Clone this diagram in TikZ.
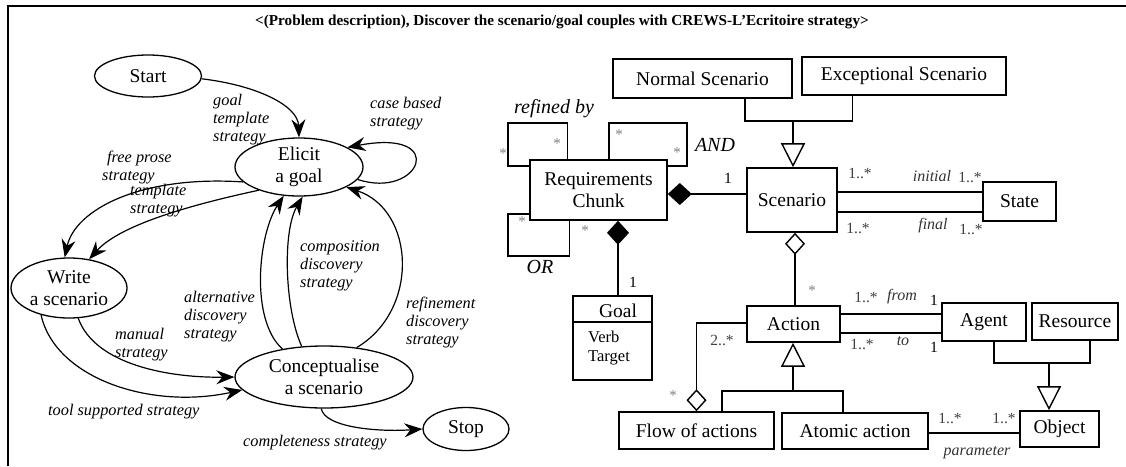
\documentclass[tikz,border=0pt]{standalone}
\usepackage{fontspec}
\setmainfont{Liberation Serif}
\usetikzlibrary{shapes.geometric,arrows.meta,calc}
\begin{document}
\begin{tikzpicture}[x=1pt,y=-1pt,
  stnode/.style={ellipse,draw,line width=1.3pt,inner sep=0pt,align=center,font=\fontsize{19.5}{21.5}\selectfont},
  lbl/.style={font=\fontsize{16.3}{18}\selectfont\itshape,align=left,inner sep=0pt,anchor=west},
  arr/.style={line width=1.2pt,-{Stealth[length=18pt,width=14pt,inset=6pt]}},
  cls/.style={draw,line width=1.6pt,inner sep=0pt,font=\fontsize{19.5}{21.5}\selectfont,align=center},
  ln/.style={line width=1.4pt},
  gen/.style={ln,-{Triangle[open,length=24pt,width=24pt]}},
  comp/.style={ln,{Diamond[length=24pt,width=22pt]}-},
  aggr/.style={ln,{Diamond[open,length=22pt,width=20pt]}-},
  mult/.style={font=\fontsize{15.5}{17}\selectfont,text=black!75,inner sep=0pt},
  star/.style={font=\fontsize{15}{17}\selectfont,text=black!50,inner sep=0pt},
  role/.style={font=\fontsize{16}{17}\selectfont\itshape,text=black!80,inner sep=0pt},
  big/.style={font=\fontsize{20}{22}\selectfont\itshape,inner sep=0pt}
]
\useasboundingbox (0,0) rectangle (1126,466);
\fill[white] (0,0) rectangle (1126,466);
\draw[line width=1.5pt] (8,466) -- (8,6) -- (1126,6);

\node[font=\fontsize{15.2}{17}\selectfont\bfseries] (title) at (562,22)
  {<(Problem description), Discover the scenario/goal couples with CREWS-L'Ecritoire strategy>};

% ---------- left: map ----------
\node[stnode,minimum width=107pt,minimum height=42pt] (start) at (148,76) {Start};
\node[stnode,minimum width=128pt,minimum height=58pt] (elicit) at (299,167) {Elicit\\a goal};
\node[stnode,minimum width=116pt,minimum height=60pt] (write) at (69,288) {Write\\a scenario};
\node[stnode,minimum width=178pt,minimum height=62pt] (concept) at (324,377) {Conceptualise\\a scenario};
\node[stnode,minimum width=86pt,minimum height=43pt] (stop) at (466,429) {Stop};

\draw[arr] (start.-3) .. controls (255,85) and (298,105) .. (elicit.north);
\draw[arr] (elicit.-12) .. controls (420,200) and (450,128) .. (elicit.22);
\draw[arr] (elicit.-165) .. controls (140,175) and (75,210) .. (write.98);
\draw[arr] (elicit.-150) .. controls (190,205) and (120,225) .. (write.55);
\draw[arr] (write.-73) .. controls (95,365) and (170,378) .. (concept.west);
\draw[arr] (write.-136) .. controls (55,378) and (150,410) .. (concept.-171);
\draw[arr] (concept.146) .. controls (250,320) and (258,235) .. (elicit.-118);
\draw[arr] (concept.126) .. controls (285,310) and (282,232) .. (elicit.-83);
\draw[arr] (concept.42) .. controls (420,310) and (415,210) .. (elicit.-23);
\draw[arr] (concept.-95) .. controls (325,428) and (380,432) .. (stop.west);

\node[lbl] (l1) at (213,119.5) {goal\\template\\strategy};
\node[lbl] (l2) at (370,114) {case based\\strategy};
\node[lbl] (l3) at (102,168) {\hspace*{5pt}free prose\\strategy};
\node[lbl] (l4) at (130,201) {template\\strategy};
\node[lbl] (l5) at (115,345) {manual\\strategy};
\node[lbl] (l6) at (48,412) {tool supported strategy};
\node[lbl] (l7) at (184,317) {alternative\\discovery\\strategy};
\node[lbl] (l8) at (300,266) {composition\\discovery\\strategy};
\node[lbl] (l9) at (406,323) {refinement\\discovery\\strategy};
\node[lbl] (l10) at (243,443) {completeness strategy};

% ---------- right: class diagram ----------
\node[cls,minimum width=179pt,minimum height=39pt] (normal) at (702.5,78.5) {Normal Scenario};
\node[cls,minimum width=204pt,minimum height=38pt] (exc) at (904,76) {Exceptional Scenario};
\node[cls,minimum width=90pt,minimum height=64pt] (scen) at (792,200) {Scenario};
\node[cls,minimum width=73pt,minimum height=39pt] (state) at (1019.5,201.5) {State};
\node[cls,minimum width=137pt,minimum height=60pt] (req) at (598.5,190) {Requirements\\Chunk};
\node[cls,minimum width=79pt,minimum height=84pt] (goal) at (612.5,338) {};
\node[font=\fontsize{19.5}{21.5}\selectfont,inner sep=0pt] (goalt) at (618,311) {Goal};
\node[font=\fontsize{16.5}{19}\selectfont,align=left,inner sep=0pt,anchor=west] (goala) at (588,348) {Verb\\Target};
\node[cls,minimum width=93pt,minimum height=36pt] (action) at (793.5,324) {Action};
\node[cls,minimum width=84pt,minimum height=38pt] (agent) at (984,322) {Agent};
\node[cls,minimum width=86pt,minimum height=37pt] (res) at (1075,321.5) {Resource};
\node[cls,minimum width=79pt,minimum height=36pt] (obj) at (1059.5,429) {Object};
\node[cls,minimum width=155pt,minimum height=37pt] (flow) at (696.5,430.5) {Flow of actions};
\node[cls,minimum width=146pt,minimum height=36pt] (atom) at (855,431) {Atomic action};

\draw[line width=1.6pt] ([yshift=-27pt]goal.north west) -- ([yshift=-27pt]goal.north east);

% generalisation Normal/Exceptional -> Scenario
\coordinate (g1) at (793,121);
\draw[ln] ([xshift=-48pt]normal.south east) |- (g1) -| ([xshift=51pt]exc.south west);
\draw[gen] (g1) -- (g1 |- scen.north);

% Scenario -- State
\draw[ln] ([yshift=8pt]scen.east) -- ([yshift=8pt]scen.east -| state.west);
\draw[ln] ([yshift=-12pt]scen.east) -- ([yshift=-12pt]scen.east -| state.west);

% Req -> Scenario composition
\draw[comp] ([yshift=-4pt]req.east) -- ([yshift=-4pt]req.east -| scen.west);

% reflexive loops
\coordinate (lp1) at (508,123);
\coordinate (lp2) at (687,123);
\coordinate (lp3) at (508,256);
\draw[ln] ([xshift=38pt]req.north west) |- (lp1) |- ([yshift=24pt]req.west);
\draw[ln] ([xshift=-59pt]req.north east) |- (lp2) |- ([yshift=24pt]req.east);
\draw[ln] ([xshift=40pt]req.south west) |- (lp3) |- ([yshift=-24pt]req.west);

% Req -> Goal
\draw[comp] ([xshift=19.5pt]req.south) -- ([xshift=19.5pt]req.south |- goal.north);

% Scenario -> Action aggregation
\draw[aggr] ([xshift=3pt]scen.south) -- ([xshift=3pt]scen.south |- action.north);

% Action -- Agent
\draw[ln] ([yshift=10pt]action.east) -- ([yshift=10pt]action.east -| agent.west);
\draw[ln] ([yshift=-9pt]action.east) -- ([yshift=-9pt]action.east -| agent.west);

% Agent/Resource -> Object
\coordinate (g2) at (1049,363);
\draw[ln] ([xshift=10pt]agent.south) |- (g2) -| ([xshift=15pt]res.south);
\draw[gen] (g2) -- (g2 |- obj.north);

% Flow/Atomic -> Action
\coordinate (g3) at (793,391);
\draw[ln] ([xshift=25.5pt]flow.north) |- (g3) -| ([xshift=-12pt]atom.north);
\draw[gen] (g3) -- (g3 |- action.south);

% Flow -> Action aggregation
\draw[aggr] (flow.north) |- ([yshift=1pt]action.west);

% Atomic -- Object
\draw[ln] ([yshift=-2pt]atom.east) -- ([yshift=-2pt]atom.east -| obj.west);

% labels
\node[big] (rb) at (554,109) {refined by};
\node[big] (and) at (715,145) {AND};
\node[big] (or) at (540,267) {OR};
\node[star] (s1) at (557,144) {*};
\node[star] (s2) at (503,154) {*};
\node[star] (s3) at (619,135) {*};
\node[star] (s4) at (677,153) {*};
\node[star] (s5) at (522,222) {*};
\node[star] (s6) at (585,231) {*};
\node[star] (s7) at (812,291) {*};
\node[star] (s8) at (673,396) {*};
\node[mult,text=black] (m1) at (728,178) {1};
\node[mult,text=black] (m2) at (633,282) {1};
\node[mult] (m3) at (860,173) {1..*};
\node[mult] (m4) at (970,177) {1..*};
\node[mult] (m5) at (858,228) {1..*};
\node[mult] (m6) at (971,229) {1..*};
\node[role] (r1) at (932,176) {initial};
\node[role] (r2) at (933,226) {final};
\node[mult] (m7) at (866,297) {1..*};
\node[role] (r3) at (902,297) {from};
\node[mult,text=black] (m8) at (934,300) {1};
\node[mult] (m9) at (862,344) {1..*};
\node[role] (r4) at (903,341) {to};
\node[mult,text=black] (m10) at (934,347) {1};
\node[mult] (m11) at (722,340) {2..*};
\node[mult] (m12) at (950,418) {1..*};
\node[mult] (m13) at (1004,418) {1..*};
\node[role] (r5) at (977,453) {parameter};
\end{tikzpicture}
\end{document}
